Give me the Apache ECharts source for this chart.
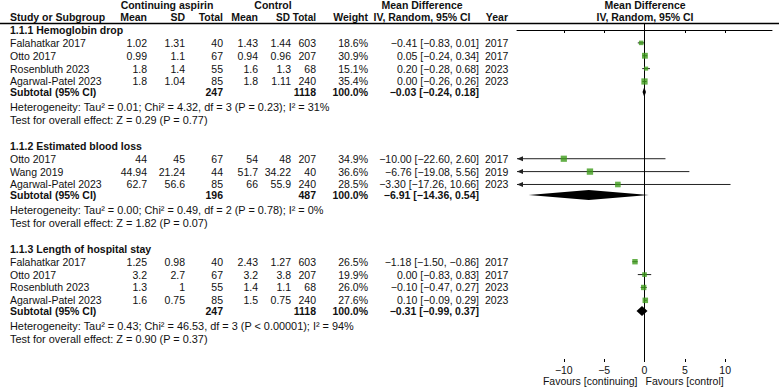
<!DOCTYPE html>
<html><head><meta charset="utf-8">
<script src="https://cdn.jsdelivr.net/npm/echarts@6/dist/echarts.min.js"></script>
<style>html,body{margin:0;padding:0;background:#fff}#c{width:779px;height:387px}</style>
</head><body><div id="c"></div>
<script>
// ---------- DATA ----------
const sectionTitles = ['1.1.1 Hemoglobin drop', '1.1.2 Estimated blood loss', '1.1.3 Length of hospital stay'];
const studyNames = ['Falahatkar 2017', 'Otto 2017', 'Rosenbluth 2023', 'Agarwal-Patel 2023',
  'Otto 2017', 'Wang 2019', 'Agarwal-Patel 2023',
  'Falahatkar 2017', 'Otto 2017', 'Rosenbluth 2023', 'Agarwal-Patel 2023'];
const studySection = [0, 0, 0, 0, 1, 1, 1, 2, 2, 2, 2];
const contMean = [1.02, 0.99, 1.8, 1.8, 44, 44.94, 62.7, 1.25, 3.2, 1.3, 1.6];
const contSD = [1.31, 1.1, 1.4, 1.04, 45, 21.24, 56.6, 0.98, 2.7, 1, 0.75];
const contN = [40, 67, 55, 85, 67, 44, 85, 40, 67, 55, 85];
const ctrlMean = [1.43, 0.94, 1.6, 1.8, 54, 51.7, 66, 2.43, 3.2, 1.4, 1.5];
const ctrlSD = [1.44, 0.96, 1.3, 1.11, 48, 34.22, 55.9, 1.27, 3.8, 1.1, 0.75];
const ctrlN = [603, 207, 68, 240, 207, 40, 240, 603, 207, 68, 240];
const weights = [18.6, 30.9, 15.1, 35.4, 34.9, 36.6, 28.5, 26.5, 19.9, 26.0, 27.6];
const md = [-0.41, 0.05, 0.20, 0.00, -10.00, -6.76, -3.30, -1.18, 0.00, -0.10, 0.10];
const ciLow = [-0.83, -0.24, -0.28, -0.26, -22.60, -19.08, -17.26, -1.50, -0.83, -0.47, -0.09];
const ciHigh = [0.01, 0.34, 0.68, 0.26, 2.60, 5.56, 10.66, -0.86, 0.83, 0.27, 0.29];
const years = [2017, 2017, 2023, 2023, 2017, 2019, 2023, 2017, 2017, 2023, 2023];

const subContN = [247, 196, 247];
const subCtrlN = [1118, 487, 1118];
const subMd = [-0.03, -6.91, -0.31];
const subLow = [-0.24, -14.36, -0.99];
const subHigh = [0.18, 0.54, 0.37];
const hetTexts = [
  'Heterogeneity: Tau\u00b2 = 0.01; Chi\u00b2 = 4.32, df = 3 (P = 0.23); I\u00b2 = 31%',
  'Heterogeneity: Tau\u00b2 = 0.00; Chi\u00b2 = 0.49, df = 2 (P = 0.78); I\u00b2 = 0%',
  'Heterogeneity: Tau\u00b2 = 0.43; Chi\u00b2 = 46.53, df = 3 (P < 0.00001); I\u00b2 = 94%'
];
const testTexts = [
  'Test for overall effect: Z = 0.29 (P = 0.77)',
  'Test for overall effect: Z = 1.82 (P = 0.07)',
  'Test for overall effect: Z = 0.90 (P = 0.37)'
];
const xTicks = [-10, -5, 0, 5, 10];
const xMin = -15.8, xMax = 15.8;
const favourLeft = 'Favours [continuing]';
const favourRight = 'Favours [control]';

// ---------- LAYOUT (row indices) ----------
const studyRow = [], subRow = [], hetRow = [], testRow = [], titleRow = [];
(function () {
  let start = 0;
  for (let s = 0; s < sectionTitles.length; s++) {
    titleRow.push(start);
    let k = 0;
    studySection.forEach((sec, i) => { if (sec === s) { k++; studyRow[i] = start + k; } });
    subRow.push(start + k + 0.82);
    hetRow.push(start + k + 2);
    testRow.push(start + k + 3);
    start = start + k + 5;
  }
})();

const GREEN = '#3f9c1c';
const FONT = '"Liberation Sans", Arial, sans-serif';
const FS = 10.5;
const fmt = v => (v < 0 ? '\u2212' : '') + Math.abs(v).toFixed(2);
const ciText = (m, l, h) => fmt(m) + ' [' + fmt(l) + ', ' + fmt(h) + ']';
const numStr = v => String(v);

const chart = echarts.init(document.getElementById('c'), null, { renderer: 'svg' });

const ciData = md.map((m, i) => [ciLow[i], ciHigh[i], studyRow[i], m]);
const sqData = md.map((m, i) => [m, studyRow[i], weights[i]]);
const dmData = subMd.map((m, s) => [subLow[s], subHigh[s], subRow[s], m]);

const option = {
  animation: false,
  backgroundColor: '#fff',
  grid: [{ left: 517, width: 255, top: 23, height: 339 }],
  xAxis: [{
    type: 'value', min: xMin, max: xMax, position: 'bottom',
    axisLine: { show: true, lineStyle: { color: '#000', width: 1 } },
    axisTick: { show: true, customValues: xTicks, length: 3, lineStyle: { color: '#000' } },
    axisLabel: { show: true, customValues: xTicks, margin: 2, color: '#111', fontFamily: FONT, fontSize: FS,
      formatter: v => (v < 0 ? '\u2212' : '') + Math.abs(v) },
    splitLine: { show: false }
  }, {
    type: 'value', min: xMin, max: xMax, position: 'bottom',
    axisLine: { show: false },
    axisTick: { show: true, inside: true, customValues: xTicks, length: 3, lineStyle: { color: '#000' } },
    axisLabel: { show: false }, splitLine: { show: false }
  }],
  yAxis: [{ type: 'value', inverse: true, min: -0.544, max: 25.79, show: false }],
  series: [
    {
      type: 'custom', name: 'CI', data: ciData, clip: false,
      renderItem: function (params, api) {
        const lo = api.value(0), hi = api.value(1), r = api.value(2);
        const a = api.coord([Math.max(lo, xMin), r]);
        const b = api.coord([Math.min(hi, xMax), r]);
        const children = [{ type: 'line', shape: { x1: a[0], y1: a[1], x2: b[0], y2: b[1] },
          style: { stroke: '#222', lineWidth: 1 } }];
        if (lo < xMin) children.push({ type: 'polygon', shape: { points: [[a[0], a[1]], [a[0] + 6, a[1] - 2.5], [a[0] + 6, a[1] + 2.5]] }, style: { fill: '#222' } });
        if (hi > xMax) children.push({ type: 'polygon', shape: { points: [[b[0], b[1]], [b[0] - 6, b[1] - 2.5], [b[0] - 6, b[1] + 2.5]] }, style: { fill: '#222' } });
        return { type: 'group', children: children };
      }
    },
    {
      type: 'scatter', name: 'Study', data: sqData, symbol: 'rect',
      symbolSize: d => Math.max(3.5, Math.sqrt(d[2]) * 1.05),
      itemStyle: { color: GREEN }, z: 5,
      markLine: { silent: true, symbol: 'none', label: { show: false },
        lineStyle: { color: '#000', width: 1, type: 'solid' }, data: [{ xAxis: 0 }] }
    },
    {
      type: 'custom', name: 'Subtotal', data: dmData, z: 6,
      renderItem: function (params, api) {
        const lo = api.coord([api.value(0), api.value(2)]);
        const hi = api.coord([api.value(1), api.value(2)]);
        const c = api.coord([api.value(3), api.value(2)]);
        const h = 5;
        return { type: 'polygon', shape: { points: [[lo[0], lo[1]], [c[0], c[1] - h], [hi[0], hi[1]], [c[0], c[1] + h]] },
          style: { fill: '#000' } };
      }
    }
  ]
};
chart.setOption(option);

// ---------- TABLE TEXT ----------
const rowY = r => chart.convertToPixel({ yAxisIndex: 0 }, r);
const g = [];
function txt(x, r, text, align, bold, size) {
  g.push({ type: 'text', x: x, y: rowY(r), silent: true,
    style: { text: text, align: align || 'left', verticalAlign: 'middle', fill: '#111',
      font: (bold ? 'bold ' : '') + (size || FS) + 'px ' + FONT } });
}
const COL = { name: 10, cMean: 147, cSD: 185, cN: 223, kMean: 258, kSD: 291, kN: 316, w: 368, ci: 479, year: 485 };
// headers
txt(167, -1.94, 'Continuing aspirin', 'center', true);
txt(273, -1.94, 'Control', 'center', true);
txt(422, -1.94, 'Mean Difference', 'center', true);
txt(645, -1.94, 'Mean Difference', 'center', true);
txt(COL.name, -1.0, 'Study or Subgroup', 'left', true);
txt(COL.cMean, -1.0, 'Mean', 'right', true);
txt(COL.cSD, -1.0, 'SD', 'right', true);
txt(COL.cN, -1.0, 'Total', 'right', true);
txt(COL.kMean, -1.0, 'Mean', 'right', true);
txt(COL.kSD - 1, -1.0, 'SD', 'right', true, 10);
txt(COL.kN, -1.0, 'Total', 'right', true, 10);
txt(COL.w, -1.0, 'Weight', 'right', true);
txt(422, -1.0, 'IV, Random, 95% CI', 'center', true);
txt(508, -1.0, 'Year', 'right', true);
txt(645, -1.0, 'IV, Random, 95% CI', 'center', true);
g.push({ type: 'line', silent: true, shape: { x1: 0, y1: 23.5, x2: 779, y2: 23.5 }, style: { stroke: '#000', lineWidth: 1.3 } });

sectionTitles.forEach((t, s) => {
  txt(COL.name, titleRow[s], t, 'left', true);
  txt(COL.name, subRow[s], 'Subtotal (95% CI)', 'left', true);
  txt(COL.cN, subRow[s], numStr(subContN[s]), 'right', true);
  txt(COL.kN, subRow[s], numStr(subCtrlN[s]), 'right', true);
  txt(COL.w, subRow[s], '100.0%', 'right', true);
  txt(COL.ci, subRow[s], ciText(subMd[s], subLow[s], subHigh[s]), 'right', true);
  txt(COL.name, hetRow[s], hetTexts[s], 'left', false, 10.9);
  txt(COL.name, testRow[s], testTexts[s], 'left', false, 10.9);
});
studyNames.forEach((n, i) => {
  const r = studyRow[i];
  txt(COL.name, r, n, 'left');
  txt(COL.cMean, r, numStr(contMean[i]), 'right');
  txt(COL.cSD, r, numStr(contSD[i]), 'right');
  txt(COL.cN, r, numStr(contN[i]), 'right');
  txt(COL.kMean, r, numStr(ctrlMean[i]), 'right');
  txt(COL.kSD, r, numStr(ctrlSD[i]), 'right');
  txt(COL.kN, r, numStr(ctrlN[i]), 'right');
  txt(COL.w, r, weights[i].toFixed(1) + '%', 'right');
  txt(COL.ci, r, ciText(md[i], ciLow[i], ciHigh[i]), 'right');
  txt(COL.year, r, numStr(years[i]), 'left');
});
const x0 = chart.convertToPixel({ xAxisIndex: 0 }, 0);
g.push({ type: 'text', x: x0 - 7, y: 381, silent: true, style: { text: favourLeft, align: 'right', verticalAlign: 'middle', fill: '#111', font: FS + 'px ' + FONT } });
g.push({ type: 'text', x: x0 + 1, y: 381, silent: true, style: { text: favourRight, align: 'left', verticalAlign: 'middle', fill: '#111', font: FS + 'px ' + FONT } });
chart.setOption({ graphic: g });
</script></body></html>
